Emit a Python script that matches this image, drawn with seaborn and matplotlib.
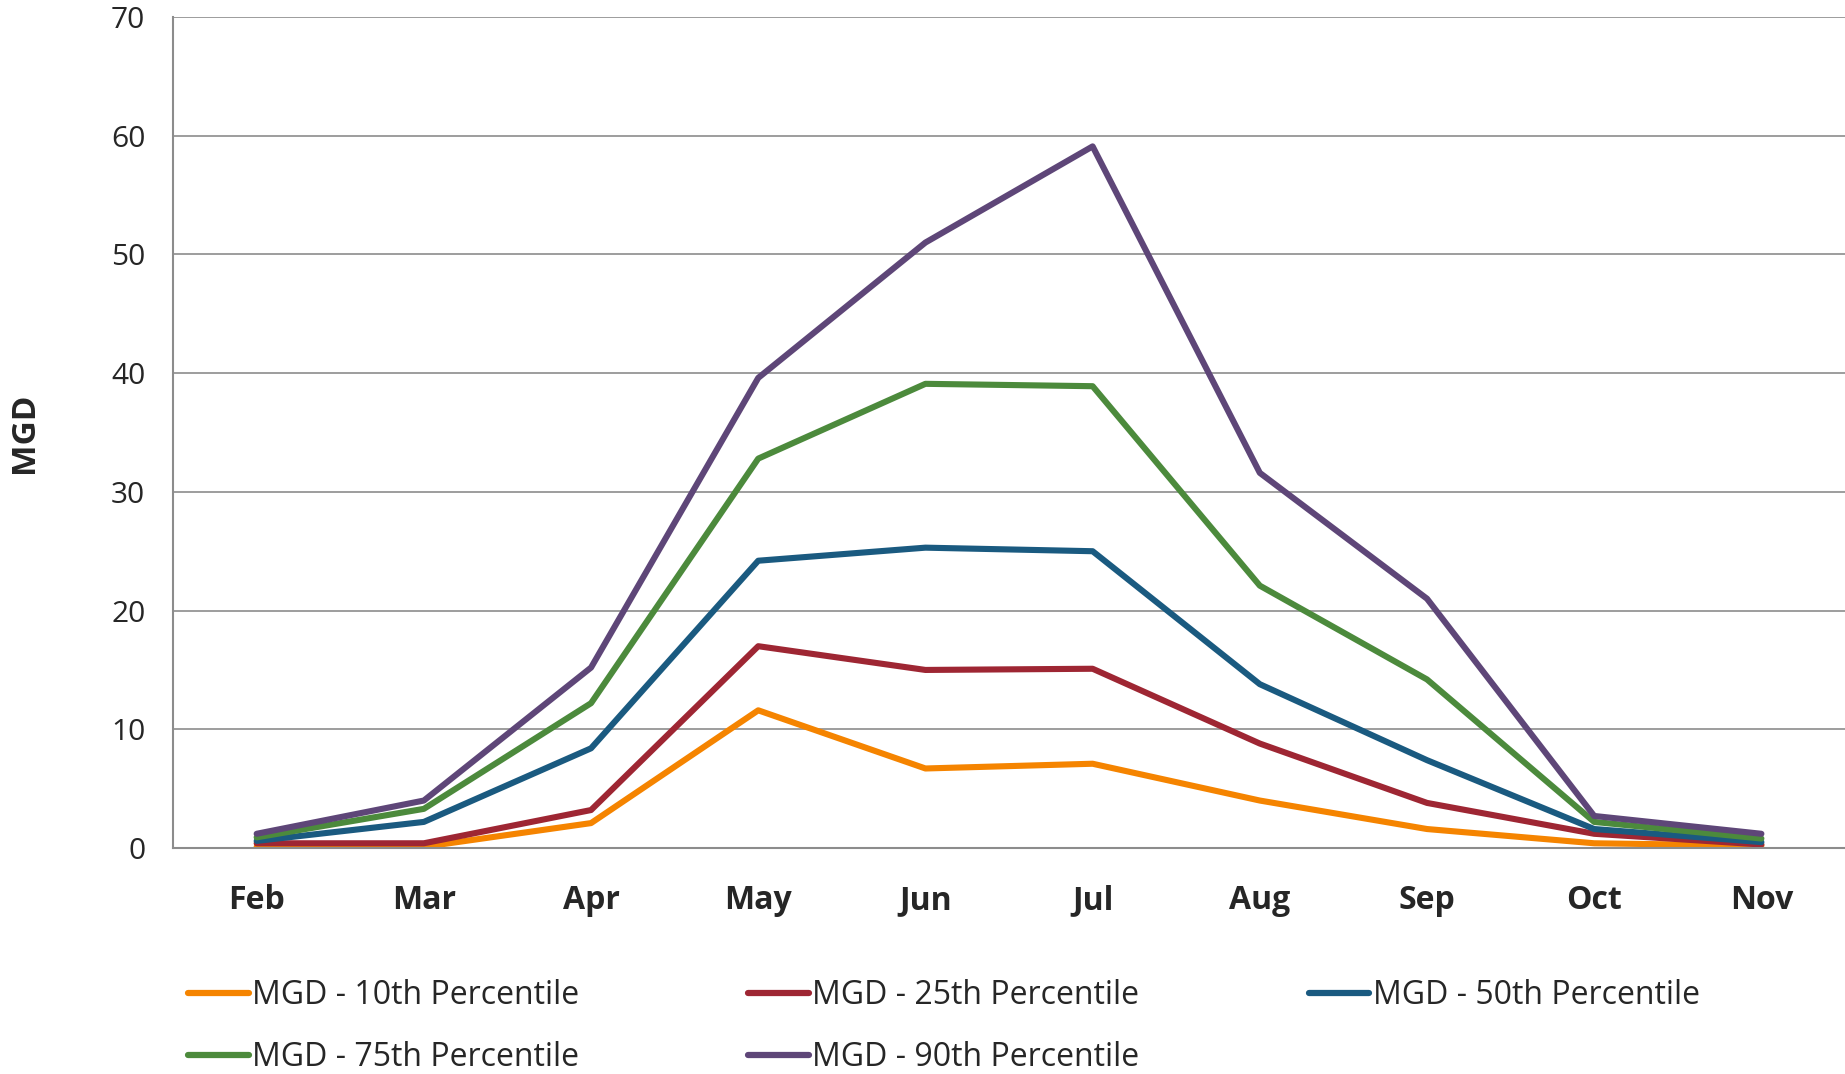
import pandas as pd
import numpy as np
import matplotlib
matplotlib.use("Agg")
import matplotlib.pyplot as plt
import seaborn as sns

# Dados
months = ["Feb", "Mar", "Apr", "May", "Jun", "Jul", "Aug", "Sep", "Oct", "Nov"]
p10 = [0.1, 0.1, 2.1, 11.6, 6.7, 7.1, 4.0, 1.6, 0.4, 0.2]
p25 = [0.4, 0.4, 3.2, 17.0, 15.0, 15.1, 8.8, 3.8, 1.2, 0.3]
p50 = [0.6, 2.2, 8.4, 24.2, 25.3, 25.0, 13.8, 7.4, 1.6, 0.5]
p75 = [0.9, 3.3, 12.2, 32.8, 39.1, 38.9, 22.1, 14.2, 2.2, 0.8]
p90 = [1.2, 4.0, 15.2, 39.6, 51.0, 59.1, 31.6, 21.0, 2.7, 1.2]
series_names = ["MGD - 10th Percentile", "MGD - 25th Percentile", "MGD - 50th Percentile",
                "MGD - 75th Percentile", "MGD - 90th Percentile"]
colors = ["#F58400", "#9E2633", "#1A5A80", "#4C8A3C", "#5E4678"]

df = pd.DataFrame({
    "month": months * 5,
    "mgd": p10 + p25 + p50 + p75 + p90,
    "series": np.repeat(series_names, len(months)),
})

sns.set_style("white")
plt.rcParams["font.family"] = ["Open Sans", "DejaVu Sans"]

fig = plt.figure(figsize=(18.45, 10.74), dpi=100)
ax = fig.add_axes([0.0938, 0.2104, 0.9062, 0.7738])

sns.lineplot(data=df, x="month", y="mgd", hue="series", palette=colors,
             linewidth=4.4, ax=ax, legend=False, sort=False)

ax.set_xlim(-0.5, 9.5)
ax.set_ylim(0, 70)
ax.set_yticks(range(0, 71, 10))
ax.yaxis.grid(True, color="#8C8C8C", linewidth=1.2)
ax.set_axisbelow(True)

ax.set_xticks(range(len(months)))
ax.set_xticklabels(months, fontsize=23, fontweight="bold")
ax.set_xticks(np.arange(-0.5, 10, 1), minor=True)
ax.tick_params(axis="x", which="major", length=0, pad=26)
ax.tick_params(axis="x", which="minor", length=10, width=1.5, color="#8C8C8C", direction="out")
ax.tick_params(axis="y", length=10, width=1.5, color="#8C8C8C", direction="out", labelsize=21.5, pad=10)

for side in ["top", "right"]:
    ax.spines[side].set_visible(False)
for side in ["left", "bottom"]:
    ax.spines[side].set_color("#8C8C8C")
    ax.spines[side].set_linewidth(1.5)

ax.set_xlabel("")
ax.set_ylabel("MGD", fontsize=24, fontweight="bold", labelpad=50)

# legenda em linhas: reordenar para preenchimento por coluna
order = [0, 3, 1, 4, 2]
handles = [plt.Line2D([0], [0], color=colors[i], linewidth=4.5, solid_capstyle="round") for i in order]
labels = [series_names[i] for i in order]
fig.legend(handles, labels, loc="upper left", bbox_to_anchor=(0.095, 0.1),
           ncol=3, frameon=False, fontsize=23, handlelength=1.9, handletextpad=0.1,
           columnspacing=5.3, labelspacing=0.9, borderaxespad=0)

fig.savefig("out.png", dpi=100)
